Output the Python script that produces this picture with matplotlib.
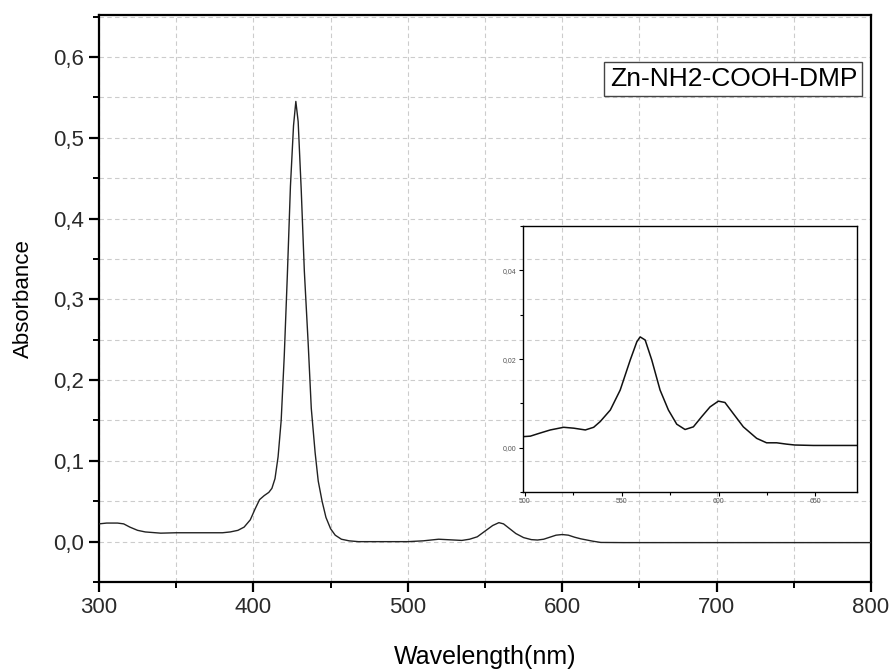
import numpy as np
import matplotlib
matplotlib.use('Agg')
import matplotlib.pyplot as plt
from matplotlib.ticker import MultipleLocator, FuncFormatter

# main spectrum
wl = [300, 305, 312, 316, 320, 325, 330, 340, 350, 360, 370, 380, 385, 390, 394, 398,
      401, 404, 407, 410, 412, 414, 416, 418, 420, 422, 424, 426, 427.5, 429, 431, 433,
      435.5, 437.5, 440, 442, 444.5, 447, 450, 453, 457, 462, 468, 480, 500, 510, 515,
      520, 525, 530, 535, 540, 545, 550, 555, 559, 562, 566, 570, 575, 580, 584, 588,
      592, 596, 600, 604, 608, 612, 616, 620, 625, 640, 800]
absorb = [0.022, 0.023, 0.023, 0.022, 0.018, 0.014, 0.012, 0.0105, 0.011, 0.011, 0.011,
          0.011, 0.012, 0.014, 0.018, 0.027, 0.040, 0.052, 0.057, 0.061, 0.066, 0.078,
          0.105, 0.150, 0.230, 0.330, 0.440, 0.515, 0.545, 0.520, 0.435, 0.335, 0.245,
          0.165, 0.110, 0.075, 0.050, 0.030, 0.016, 0.008, 0.003, 0.001, 0.0, 0.0, 0.0,
          0.001, 0.002, 0.003, 0.0025, 0.002, 0.0015, 0.003, 0.006, 0.013, 0.020, 0.0235,
          0.022, 0.016, 0.010, 0.005, 0.0025, 0.002, 0.003, 0.0055, 0.008, 0.0088, 0.008,
          0.0055, 0.0035, 0.002, 0.0005, -0.001, -0.0012, -0.0012]

# inset (zoom of Q bands)
wl_in = [499.4, 502.8, 507.1, 513.1, 520.0, 525.2, 531.2, 535.5, 538.9, 544.1, 549.2,
         554.4, 557.8, 559.5, 562.1, 565.5, 569.8, 574.1, 578.4, 582.7, 587.0, 591.3,
         595.6, 599.9, 603.3, 607.6, 612.8, 619.7, 624.8, 630.0, 635.1, 639.4, 648.9, 671.2]
abs_in = [0.0025, 0.0026, 0.0032, 0.0040, 0.0046, 0.0044, 0.0040, 0.0046, 0.0059, 0.0085,
          0.0130, 0.0198, 0.0239, 0.0250, 0.0243, 0.0198, 0.0130, 0.0085, 0.0053, 0.0041,
          0.0047, 0.0070, 0.0092, 0.0105, 0.0102, 0.0077, 0.0047, 0.0021, 0.0011, 0.0011,
          0.0008, 0.0006, 0.0005, 0.0005]

label = 'Zn-NH2-COOH-DMP'

plt.rcParams['font.family'] = ['Liberation Sans', 'DejaVu Sans']

fig = plt.figure(figsize=(8.94, 6.69), dpi=100)
ax = fig.add_axes([0.1107, 0.130, 0.8636, 0.8476])

ax.plot(wl, absorb, color='#222222', linewidth=1.0, zorder=3)
ax.set_xlim(300, 800)
ax.set_ylim(-0.05, 0.652)

ax.xaxis.set_major_locator(MultipleLocator(100))
ax.xaxis.set_minor_locator(MultipleLocator(50))
ax.yaxis.set_major_locator(MultipleLocator(0.1))
ax.yaxis.set_minor_locator(MultipleLocator(0.05))
ax.yaxis.set_major_formatter(FuncFormatter(lambda v, p: f'{v:.1f}'.replace('.', ',')))

ax.grid(True, which='both', linestyle=(0, (4, 3)), color='#cccccc', linewidth=0.8)
ax.set_axisbelow(True)

for s in ax.spines.values():
    s.set_linewidth(1.6)
ax.tick_params(which='major', direction='out', length=7, width=1.6, labelsize=16,
               labelcolor='#2a2a2a', top=False, right=False)
ax.tick_params(which='minor', direction='out', length=4, width=1.4, top=False, right=False)

ax.set_xlabel('Wavelength(nm)', fontsize=18, labelpad=20)
ax.set_ylabel('Absorbance', fontsize=16, labelpad=14)

ax.text(0.982, 0.887, label, transform=ax.transAxes, ha='right', va='center', fontsize=19,
        bbox=dict(boxstyle='square,pad=0.2', facecolor='white', edgecolor='#444444',
                  linewidth=1.0), zorder=6)

# inset
ins = fig.add_axes([0.585, 0.2646, 0.3736, 0.3974])
ins.set_facecolor('none')
ins.plot(wl_in, abs_in, color='#111111', linewidth=1.1)
ins.set_xlim(499, 671.5)
ins.set_ylim(-0.01, 0.05)
ins.xaxis.set_major_locator(MultipleLocator(50))
ins.xaxis.set_minor_locator(MultipleLocator(25))
ins.yaxis.set_major_locator(MultipleLocator(0.02))
ins.yaxis.set_minor_locator(MultipleLocator(0.01))
ins.yaxis.set_major_formatter(FuncFormatter(lambda v, p: f'{v:.2f}'.replace('.', ',')))
for s in ins.spines.values():
    s.set_linewidth(1.0)
ins.tick_params(which='major', direction='out', length=3, width=0.8, labelsize=5,
                labelcolor='#555555', pad=1.5)
ins.tick_params(which='minor', direction='out', length=2, width=0.8)

fig.savefig('out.png', dpi=100)
